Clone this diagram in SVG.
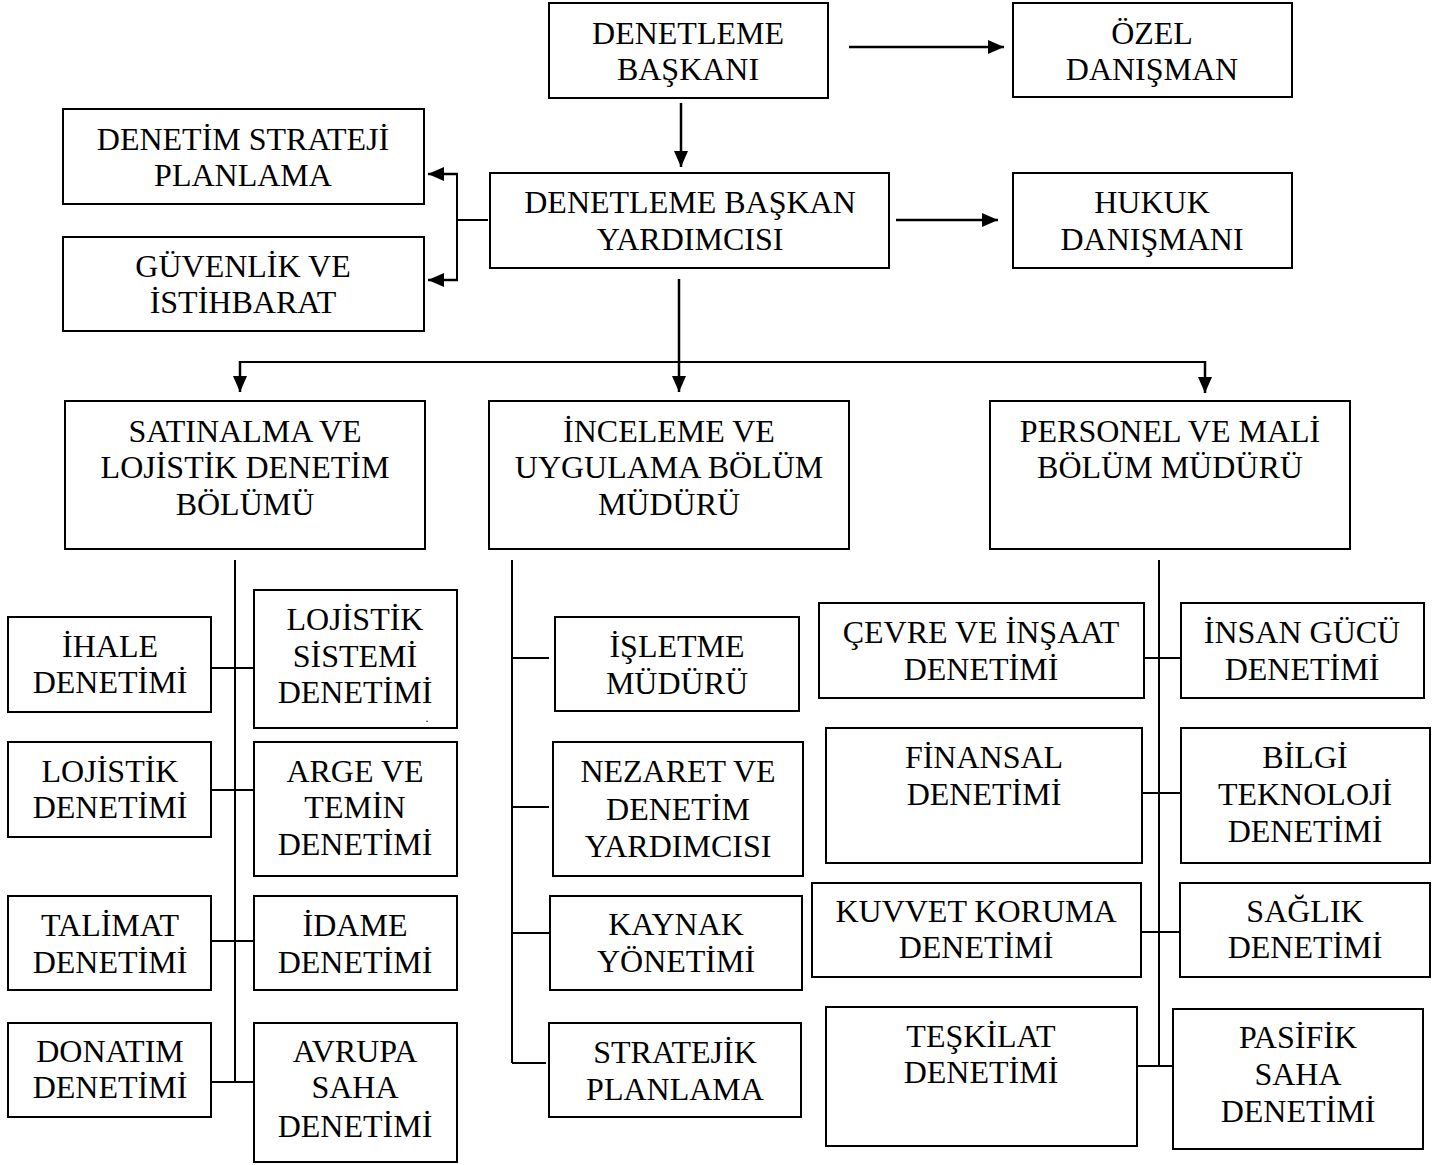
<svg xmlns="http://www.w3.org/2000/svg" width="1446" height="1165" viewBox="0 0 1446 1165">
<style>
.box{fill:#fff;stroke:#000;stroke-width:2}
.t{font-family:'Liberation Serif','Times New Roman',serif;font-size:32px;fill:#000;text-anchor:middle}
.ln{fill:none;stroke:#000;stroke-width:2}
.ar{fill:none;stroke:#000;stroke-width:2.5;marker-end:url(#ah)}
</style>
<defs>
<marker id="ah" viewBox="0 0 16 14" refX="16" refY="7" markerWidth="16" markerHeight="14" markerUnits="userSpaceOnUse" orient="auto">
<path d="M0,0 L16,7 L0,14 z" fill="#000"/>
</marker>
</defs>
<rect width="1446" height="1165" fill="#fff"/>

<g id="connectors">
<path class="ar" d="M849,47 H1004"/>
<path class="ar" d="M681,103 V167"/>
<path class="ar" d="M896,220 H998"/>
<path class="ln" d="M488,220 H457 M457,174 V280"/>
<path class="ar" d="M458,174 H428"/>
<path class="ar" d="M458,280 H428"/>
<path class="ar" d="M679,279 V392"/>
<path class="ln" d="M240,362 H1205"/>
<path class="ar" d="M240,361 V392"/>
<path class="ar" d="M1205,361 V393"/>
<path class="ln" d="M235,560 V1082 M211,668 H254 M211,790 H254 M211,941 H254 M211,1082 H254"/>
<path class="ln" d="M512,560 V1063 M512,658 H549 M512,807 H549 M512,933 H550 M512,1063 H546"/>
<path class="ln" d="M1159,560 V1066 M1143,658 H1181 M1142,793 H1181 M1141,932 H1180 M1137,1066 H1173"/>
</g>

<g id="n-baskan"><rect class="box" x="549" y="3" width="279" height="95"/><text class="t" x="688" y="44">DENETLEME</text><text class="t" x="688" y="80">BAŞKANI</text></g>
<g id="n-ozel"><rect class="box" x="1013" y="3" width="279" height="94"/><text class="t" x="1152" y="44">ÖZEL</text><text class="t" x="1152" y="80">DANIŞMAN</text></g>
<g id="n-strateji"><rect class="box" x="63" y="109" width="361" height="95"/><text class="t" x="243" y="150">DENETİM STRATEJİ</text><text class="t" x="243" y="186">PLANLAMA</text></g>
<g id="n-guvenlik"><rect class="box" x="63" y="237" width="361" height="94"/><text class="t" x="243" y="277">GÜVENLİK VE</text><text class="t" x="243" y="313">İSTİHBARAT</text></g>
<g id="n-yardimci"><rect class="box" x="490" y="173" width="399" height="95"/><text class="t" x="690" y="213">DENETLEME BAŞKAN</text><text class="t" x="690" y="250">YARDIMCISI</text></g>
<g id="n-hukuk"><rect class="box" x="1013" y="173" width="279" height="95"/><text class="t" x="1152" y="213">HUKUK</text><text class="t" x="1152" y="250">DANIŞMANI</text></g>

<g id="n-satinalma"><rect class="box" x="65" y="401" width="360" height="148"/><text class="t" x="245" y="442">SATINALMA VE</text><text class="t" x="245" y="478">LOJİSTİK DENETİM</text><text class="t" x="245" y="515">BÖLÜMÜ</text></g>
<g id="n-inceleme"><rect class="box" x="489" y="401" width="360" height="148"/><text class="t" x="669" y="442">İNCELEME VE</text><text class="t" x="669" y="478">UYGULAMA BÖLÜM</text><text class="t" x="669" y="515">MÜDÜRÜ</text></g>
<g id="n-personel"><rect class="box" x="990" y="401" width="360" height="148"/><text class="t" x="1170" y="442">PERSONEL VE MALİ</text><text class="t" x="1170" y="478">BÖLÜM MÜDÜRÜ</text></g>

<g id="n-ihale"><rect class="box" x="8" y="617" width="203" height="95"/><text class="t" x="110" y="657">İHALE</text><text class="t" x="110" y="693">DENETİMİ</text></g>
<g id="n-lojsistem"><rect class="box" x="254" y="590" width="203" height="138"/><text class="t" x="355" y="630">LOJİSTİK</text><text class="t" x="355" y="667">SİSTEMİ</text><text class="t" x="355" y="703">DENETİMİ</text><text class="t" x="427" y="722" style="font-size:12px">.</text></g>
<g id="n-lojdenetim"><rect class="box" x="8" y="742" width="203" height="95"/><text class="t" x="110" y="782">LOJİSTİK</text><text class="t" x="110" y="818">DENETİMİ</text></g>
<g id="n-arge"><rect class="box" x="254" y="742" width="203" height="134"/><text class="t" x="355" y="782">ARGE VE</text><text class="t" x="355" y="818">TEMİN</text><text class="t" x="355" y="855">DENETİMİ</text></g>
<g id="n-talimat"><rect class="box" x="8" y="896" width="203" height="94"/><text class="t" x="110" y="936">TALİMAT</text><text class="t" x="110" y="973">DENETİMİ</text></g>
<g id="n-idame"><rect class="box" x="254" y="896" width="203" height="94"/><text class="t" x="355" y="936">İDAME</text><text class="t" x="355" y="973">DENETİMİ</text></g>
<g id="n-donatim"><rect class="box" x="8" y="1023" width="203" height="94"/><text class="t" x="110" y="1062">DONATIM</text><text class="t" x="110" y="1098">DENETİMİ</text></g>
<g id="n-avrupa"><rect class="box" x="254" y="1023" width="203" height="139"/><text class="t" x="355" y="1062">AVRUPA</text><text class="t" x="355" y="1098">SAHA</text><text class="t" x="355" y="1137">DENETİMİ</text></g>

<g id="n-isletme"><rect class="box" x="555" y="617" width="244" height="94"/><text class="t" x="677" y="657">İŞLETME</text><text class="t" x="677" y="694">MÜDÜRÜ</text></g>
<g id="n-nezaret"><rect class="box" x="553" y="742" width="250" height="134"/><text class="t" x="678" y="782">NEZARET VE</text><text class="t" x="678" y="820">DENETİM</text><text class="t" x="678" y="857">YARDIMCISI</text></g>
<g id="n-kaynak"><rect class="box" x="550" y="896" width="252" height="94"/><text class="t" x="676" y="935">KAYNAK</text><text class="t" x="676" y="972">YÖNETİMİ</text></g>
<g id="n-stratejik"><rect class="box" x="549" y="1023" width="252" height="94"/><text class="t" x="675" y="1063">STRATEJİK</text><text class="t" x="675" y="1100">PLANLAMA</text></g>

<g id="n-cevre"><rect class="box" x="819" y="603" width="325" height="95"/><text class="t" x="981" y="643">ÇEVRE VE İNŞAAT</text><text class="t" x="981" y="680">DENETİMİ</text></g>
<g id="n-insan"><rect class="box" x="1181" y="603" width="243" height="95"/><text class="t" x="1302" y="643">İNSAN GÜCÜ</text><text class="t" x="1302" y="680">DENETİMİ</text></g>
<g id="n-finansal"><rect class="box" x="826" y="728" width="316" height="135"/><text class="t" x="984" y="768">FİNANSAL</text><text class="t" x="984" y="805">DENETİMİ</text></g>
<g id="n-bilgi"><rect class="box" x="1181" y="728" width="249" height="135"/><text class="t" x="1305" y="768">BİLGİ</text><text class="t" x="1305" y="805">TEKNOLOJİ</text><text class="t" x="1305" y="842">DENETİMİ</text></g>
<g id="n-kuvvet"><rect class="box" x="812" y="883" width="329" height="94"/><text class="t" x="976" y="922">KUVVET KORUMA</text><text class="t" x="976" y="958">DENETİMİ</text></g>
<g id="n-saglik"><rect class="box" x="1180" y="883" width="250" height="94"/><text class="t" x="1305" y="922">SAĞLIK</text><text class="t" x="1305" y="958">DENETİMİ</text></g>
<g id="n-teskilat"><rect class="box" x="826" y="1007" width="311" height="139"/><text class="t" x="981" y="1047">TEŞKİLAT</text><text class="t" x="981" y="1083">DENETİMİ</text></g>
<g id="n-pasifik"><rect class="box" x="1173" y="1009" width="250" height="140"/><text class="t" x="1298" y="1048">PASİFİK</text><text class="t" x="1298" y="1085">SAHA</text><text class="t" x="1298" y="1122">DENETİMİ</text></g>
</svg>
